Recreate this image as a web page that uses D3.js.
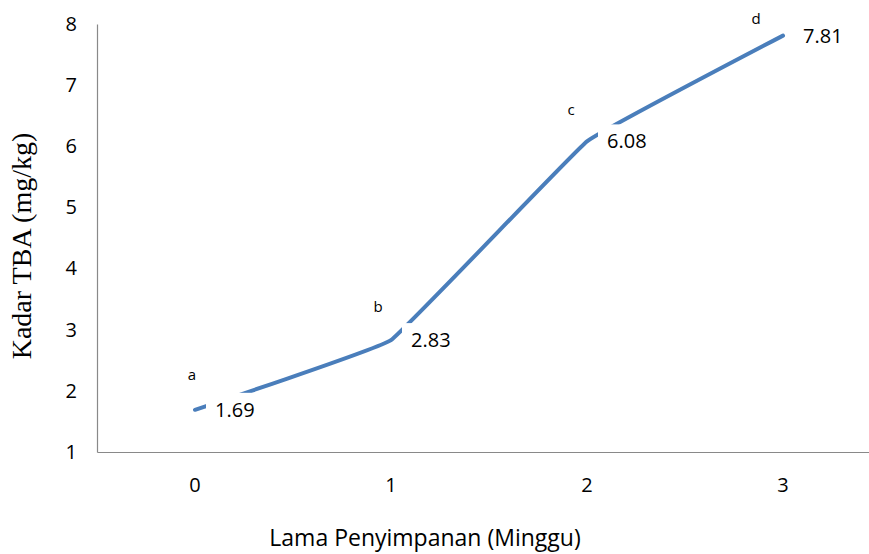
<!DOCTYPE html>
<html>
<head>
<meta charset="utf-8">
<script src="https://cdn.jsdelivr.net/npm/d3@7"></script>
<style>
  html, body { margin: 0; padding: 0; background: #fff; }
  svg { display: block; }
</style>
</head>
<body>
<svg id="chart" width="869" height="554"></svg>
<script>
// Storage time (weeks) and TBA content (mg/kg)
const weeks = ["0", "1", "2", "3"];
const tbaValues = [1.69, 2.83, 6.08, 7.81];
const significance = ["a", "b", "c", "d"];
const yTicks = [1, 2, 3, 4, 5, 6, 7, 8];

const svg = d3.select("#chart");
const plot = { left: 97, right: 881, top: 24, bottom: 452 };

const x = d3.scaleBand().domain(weeks).range([plot.left, plot.right]);
const y = d3.scaleLinear().domain([1, 8]).range([plot.bottom, plot.top]);
const cx = d => x(d) + x.bandwidth() / 2;

const sans = "'Open Sans', 'Noto Sans', sans-serif";

// Axes (lines only, no tick marks)
const yAxis = svg.append("g")
  .attr("transform", `translate(${plot.left},0)`)
  .call(d3.axisLeft(y).tickValues(yTicks).tickSize(0).tickPadding(20).tickFormat(d3.format("d")));
yAxis.select(".domain").attr("stroke", "#898989").attr("stroke-width", 1.2);
yAxis.selectAll("text").attr("font-family", sans).attr("font-size", 20).attr("fill", "#000");

const xAxis = svg.append("g")
  .attr("transform", `translate(0,${plot.bottom})`)
  .call(d3.axisBottom(x).tickSize(0).tickPadding(26));
xAxis.select(".domain").attr("stroke", "#898989").attr("stroke-width", 1.2);
xAxis.selectAll("text").attr("font-family", sans).attr("font-size", 20).attr("fill", "#000");

// Axis titles
svg.append("text")
  .attr("transform", `translate(31,246) rotate(-90)`)
  .attr("text-anchor", "middle")
  .attr("font-family", "'Liberation Serif', 'Times New Roman', serif")
  .attr("font-size", 28)
  .text("Kadar TBA (mg/kg)");

svg.append("text")
  .attr("x", 425)
  .attr("y", 546)
  .attr("text-anchor", "middle")
  .attr("font-family", sans)
  .attr("font-size", 23)
  .text("Lama Penyimpanan (Minggu)");

// Smoothed series line
const pts = weeks.map((w, i) => [cx(w), y(tbaValues[i])]);
svg.append("path")
  .attr("d", d3.line().curve(d3.curveCardinal.tension(0.8))(pts))
  .attr("fill", "none")
  .attr("stroke", "#4a7ebb")
  .attr("stroke-width", 4)
  .attr("stroke-linecap", "round");

// Value labels on white boxes
const valueLabels = svg.append("g");
weeks.forEach((w, i) => {
  const g = valueLabels.append("g")
    .attr("transform", `translate(${cx(w) + 20},${y(tbaValues[i]) + 7})`);
  const t = g.append("text")
    .attr("font-family", sans)
    .attr("font-size", 20)
    .text(tbaValues[i].toFixed(2));
  const bb = t.node().getBBox();
  g.insert("rect", "text")
    .attr("x", -9).attr("y", -24)
    .attr("width", bb.width + 18).attr("height", 40)
    .attr("fill", "#fff");
});

// Significance letters above each point
const letterOffsets = [[-3, -30], [-13, -28], [-16, -26], [-27, -12]];
svg.append("g").selectAll("text")
  .data(significance)
  .join("text")
  .attr("x", (d, i) => cx(weeks[i]) + letterOffsets[i][0])
  .attr("y", (d, i) => y(tbaValues[i]) + letterOffsets[i][1])
  .attr("text-anchor", "middle")
  .attr("font-family", sans)
  .attr("font-size", 15)
  .text(d => d);
</script>
</body>
</html>
